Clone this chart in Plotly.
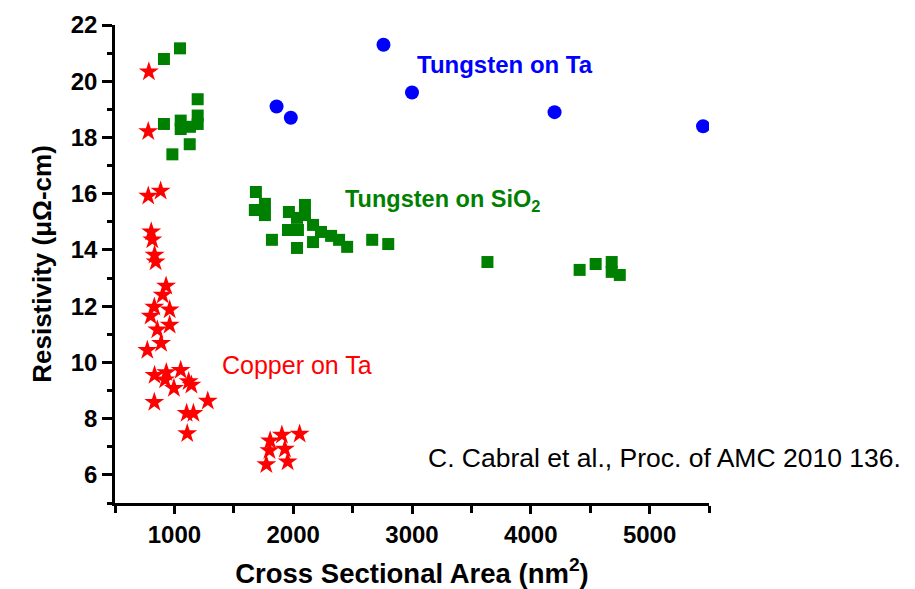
import plotly.graph_objects as go

# Copper on Ta (red stars)
cu_x = [785, 780, 780, 884, 805, 814, 833, 842, 930, 901, 831, 960, 800, 856, 960, 888, 772,
        833, 932, 922, 1053, 996, 1120, 1143, 831, 1281, 1103, 1160, 1108,
        1806, 1800, 1905, 2054, 1930, 1774, 1953]
cu_y = [20.34, 18.21, 15.92, 16.10, 14.65, 14.36, 13.82, 13.58, 12.72, 12.40, 11.97, 11.87, 11.65,
        11.16, 11.33, 10.68, 10.43, 9.54, 9.64, 9.38, 9.72, 9.08, 9.32, 9.20, 8.58, 8.63, 8.19,
        8.19, 7.47, 7.21, 6.87, 7.42, 7.45, 6.92, 6.37, 6.47]

# Tungsten on SiO2 (green squares)
wsio_x = [1047, 912, 1196, 912, 1053, 1053, 1131, 1196, 1196, 1129, 983,
          1686, 1762, 1677, 1762, 1821, 1964, 2099, 2032, 2040, 1956, 2032, 2099, 2167, 2167,
          2234, 2319, 2386, 2454, 2665, 2800, 3635,
          4411, 4546, 4681, 4681, 4749]
wsio_y = [21.17, 20.79, 19.36, 18.48, 18.60, 18.30, 18.38, 18.78, 18.48, 17.76, 17.40,
          16.06, 15.64, 15.42, 15.24, 14.36, 15.35, 15.60, 15.14, 14.71, 14.71, 14.07, 15.24,
          14.89, 14.28, 14.64, 14.50, 14.36, 14.11, 14.36, 14.21, 13.57,
          13.29, 13.50, 13.57, 13.22, 13.11]

# Tungsten on Ta (blue circles)
wta_x = [1860, 1980, 2760, 3000, 4200, 5450]
wta_y = [19.1, 18.7, 21.3, 19.6, 18.9, 18.4]

x_range = [500, 5500]
y_range = [5, 22]
x_ticks = [1000, 2000, 3000, 4000, 5000]
y_ticks = [6, 8, 10, 12, 14, 16, 18, 20, 22]

FONT = "Liberation Sans"

fig = go.Figure()
fig.add_trace(go.Scatter(x=cu_x, y=cu_y, mode="markers", name="Copper on Ta",
                         marker=dict(symbol="star", size=15, color="#ff0000", line=dict(width=0))))
fig.add_trace(go.Scatter(x=wsio_x, y=wsio_y, mode="markers", name="Tungsten on SiO2",
                         marker=dict(symbol="square", size=12, color="#008000", line=dict(width=0))))
fig.add_trace(go.Scatter(x=wta_x, y=wta_y, mode="markers", name="Tungsten on Ta",
                         marker=dict(symbol="circle", size=14, color="#0000ff", line=dict(width=0))))

fig.add_annotation(x=3028, y=20.58, text="Tungsten on Ta", showarrow=False, xanchor="left", yanchor="middle",
                   font=dict(family=FONT, size=24, color="#0000ff", weight="bold"))
fig.add_annotation(x=2420, y=15.75, text="Tungsten on SiO<sub>2</sub>", showarrow=False, xanchor="left",
                   yanchor="middle", font=dict(family=FONT, size=23.5, color="#008000", weight="bold"))
fig.add_annotation(x=1382, y=9.91, text="Copper on Ta", showarrow=False, xanchor="left", yanchor="middle",
                   font=dict(family=FONT, size=25, color="#ff0000"))
fig.add_annotation(x=3121, y=6.6, text="C. Cabral et al., Proc. of AMC 2010 136.", showarrow=False,
                   xanchor="left", yanchor="middle", font=dict(family=FONT, size=26.5, color="#000000"))

axis_common = dict(showline=True, linecolor="black", linewidth=2.5, showgrid=False, zeroline=False,
                   ticks="outside", tickcolor="black", tickwidth=2.5, mirror=False,
                   tickfont=dict(family=FONT, size=24, color="black", weight="bold"))

fig.update_xaxes(range=x_range, tickvals=x_ticks, ticklen=8,
                 minor=dict(dtick=500, tick0=500, ticks="outside", ticklen=7, tickwidth=2.5, tickcolor="black"),
                 title=dict(text="Cross Sectional Area (nm<sup>2</sup>)", standoff=21,
                            font=dict(family=FONT, size=27.5, color="black", weight="bold")),
                 automargin=False, **axis_common)
fig.update_yaxes(range=y_range, tickvals=y_ticks, ticklen=10,
                 minor=dict(dtick=1, tick0=5, ticks="outside", ticklen=5, tickwidth=2.5, tickcolor="black"),
                 title=dict(text="Resistivity (μΩ-cm)", standoff=12,
                            font=dict(family=FONT, size=26, color="black", weight="bold")),
                 automargin=False, **axis_common)

fig.update_layout(width=915, height=589, margin=dict(l=115, r=206, t=25, b=86),
                  paper_bgcolor="white", plot_bgcolor="white", showlegend=False)

fig.write_html("out.html")
